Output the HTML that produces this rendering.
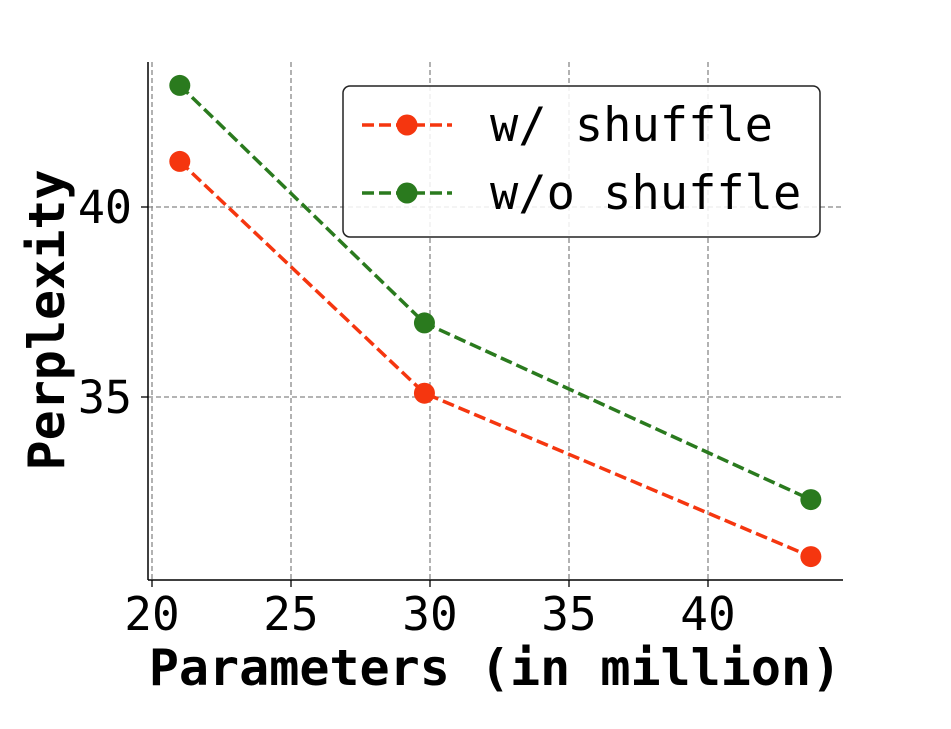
<!DOCTYPE html>
<html><head><meta charset="utf-8"><style>
html,body{margin:0;padding:0;background:#fff;}
svg{display:block;font-family:"DejaVu Sans Mono","Liberation Mono",monospace;}
</style></head><body>
<svg id="chart" width="951" height="729" viewBox="0 0 951 729">
<g id="grid"></g>
<g id="axes"></g>
<g id="series"></g>
<text x="495" y="685" text-anchor="middle" font-size="50" font-weight="bold">Parameters (in million)</text>
<text transform="translate(64,320) rotate(-90)" text-anchor="middle" font-size="50" font-weight="bold">Perplexity</text>
<g>
<rect x="343" y="86" width="477" height="151" rx="7" fill="#fff" fill-opacity="0.85" stroke="#222" stroke-width="1.5"/>
<g>
<line x1="362" y1="125" x2="452" y2="125" stroke="#f5360f" stroke-width="3.5" stroke-dasharray="12,5"/>
<circle cx="407" cy="125" r="10.5" fill="#f5360f"/>
<text x="490" y="141" font-size="47">w/ shuffle</text></g>
<g>
<line x1="362" y1="193" x2="452" y2="193" stroke="#2a7a1e" stroke-width="3.5" stroke-dasharray="12,5"/>
<circle cx="407" cy="193" r="10.5" fill="#2a7a1e"/>
<text x="490" y="209" font-size="47">w/o shuffle</text></g>
</g>
</svg>
<script>
const xTicks=[20,25,30,35,40];
const yTicks=[35,40];
const params=[21.0,29.8,43.7];
const withShuffle=[41.2,35.1,30.8];
const withoutShuffle=[43.2,36.95,32.3];
const NS="http://www.w3.org/2000/svg";
const xs=v=>152+(v-20)*27.8;
const ys=v=>397-(v-35)*38;
function mk(tag,attrs,parent){const e=document.createElementNS(NS,tag);for(const k in attrs)e.setAttribute(k,attrs[k]);parent.appendChild(e);return e;}
const grid=document.getElementById('grid'),axes=document.getElementById('axes'),series=document.getElementById('series');
xTicks.forEach(t=>{
 const l=mk('line',{x1:xs(t),x2:xs(t),y1:62,y2:580,stroke:'#888','stroke-width':1.3,'stroke-dasharray':'5,3'},grid);
 
 
 const tk=mk('line',{x1:xs(t),x2:xs(t),y1:580,y2:587,stroke:'#000','stroke-width':1.3},axes);
 
 
 const tx=mk('text',{x:xs(t),y:630,'text-anchor':'middle','font-size':46},axes);tx.textContent=t;
 
 
});
yTicks.forEach(t=>{
 const l=mk('line',{x1:148,x2:843,y1:ys(t),y2:ys(t),stroke:'#888','stroke-width':1.3,'stroke-dasharray':'5,3'},grid);
 
 
 const tk=mk('line',{x1:141,x2:148,y1:ys(t),y2:ys(t),stroke:'#000','stroke-width':1.3},axes);
 
 
 const tx=mk('text',{x:132,y:ys(t)+16,'text-anchor':'end','font-size':45},axes);tx.textContent=t;
 
 
});
const sp1=mk('line',{x1:148,x2:148,y1:62,y2:580,stroke:'#000','stroke-width':1.5},axes);


const sp2=mk('line',{x1:148,x2:843,y1:580,y2:580,stroke:'#000','stroke-width':1.5},axes);


function draw(vals,color,name){
 const pl=mk('polyline',{points:params.map((p,i)=>xs(p)+','+ys(vals[i])).join(' '),fill:'none',stroke:color,'stroke-width':3.5,'stroke-dasharray':'12,5'},series);
 
 
 params.forEach((p,i)=>{
  const c=mk('circle',{cx:xs(p),cy:ys(vals[i]),r:10.5,fill:color},series);
  
  
 });
}
draw(withoutShuffle,'#2a7a1e','without-shuffle');
draw(withShuffle,'#f5360f','with-shuffle');
</script>
</body></html>
